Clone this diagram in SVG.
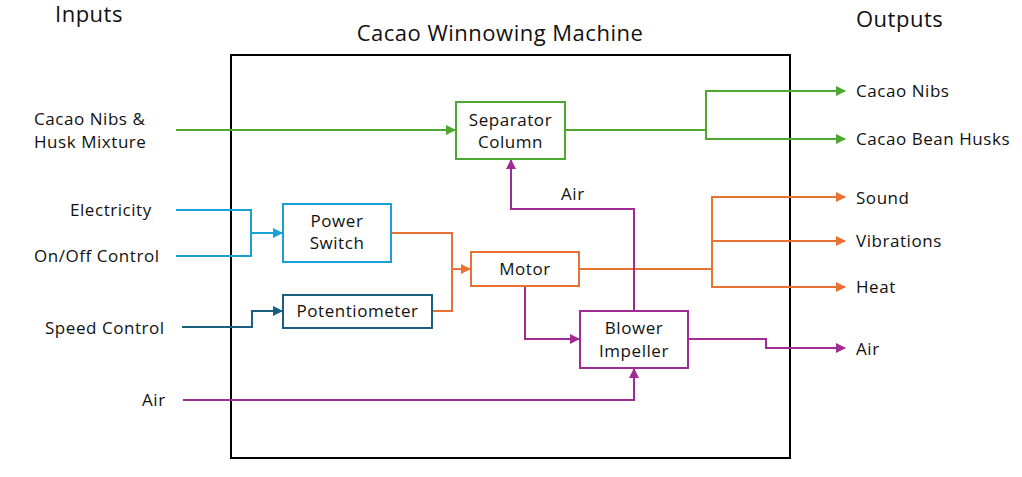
<svg xmlns="http://www.w3.org/2000/svg" width="1022" height="477" viewBox="0 0 1022 477">
<style>
text{font-family:"Open Sans","Liberation Sans",sans-serif;font-size:17px;letter-spacing:0.55px;fill:#111}
.t{font-size:22px;letter-spacing:0.5px}
.c{text-anchor:middle}
.box{fill:#fff;stroke-width:2}
.ln{fill:none;stroke-width:2}
.g{stroke:#4EA72E}.b{stroke:#1A9FD6}.d{stroke:#1B5E80}.o{stroke:#E97132}.p{stroke:#A02B93}
</style>
<defs>
<marker id="ag" viewBox="0 0 10 10" refX="9" refY="5" markerWidth="5" markerHeight="5" orient="auto" markerUnits="strokeWidth"><path d="M0,0L10,5L0,10z" fill="#4EA72E"/></marker>
<marker id="ab" viewBox="0 0 10 10" refX="9" refY="5" markerWidth="5" markerHeight="5" orient="auto" markerUnits="strokeWidth"><path d="M0,0L10,5L0,10z" fill="#1A9FD6"/></marker>
<marker id="ad" viewBox="0 0 10 10" refX="9" refY="5" markerWidth="5" markerHeight="5" orient="auto" markerUnits="strokeWidth"><path d="M0,0L10,5L0,10z" fill="#1B5E80"/></marker>
<marker id="ao" viewBox="0 0 10 10" refX="9" refY="5" markerWidth="5" markerHeight="5" orient="auto" markerUnits="strokeWidth"><path d="M0,0L10,5L0,10z" fill="#E97132"/></marker>
<marker id="ap" viewBox="0 0 10 10" refX="9" refY="5" markerWidth="5" markerHeight="5" orient="auto" markerUnits="strokeWidth"><path d="M0,0L10,5L0,10z" fill="#A02B93"/></marker>
</defs>
<rect width="1022" height="477" fill="#fff"/>
<g id="frame">
<rect x="231" y="55" width="559" height="403" fill="none" stroke="#000" stroke-width="2"/>
<text class="t" x="55" y="22">Inputs</text>
<text class="t c" x="500" y="41">Cacao Winnowing Machine</text>
<text class="t" x="856" y="27">Outputs</text>
</g>
<g id="input-labels">
<text x="34" y="125">Cacao Nibs &amp;</text>
<text x="34" y="148">Husk Mixture</text>
<text x="70" y="216">Electricity</text>
<text x="34" y="262">On/Off Control</text>
<text x="45" y="334">Speed Control</text>
<text x="142" y="406">Air</text>
</g>
<g id="output-labels">
<text x="856" y="97">Cacao Nibs</text>
<text x="856" y="145">Cacao Bean Husks</text>
<text x="856" y="204">Sound</text>
<text x="856" y="247">Vibrations</text>
<text x="856" y="293">Heat</text>
<text x="856" y="355">Air</text>
</g>
<g id="connectors">
<path class="ln g" d="M176,130H455" marker-end="url(#ag)"/>
<path class="ln g" d="M565,130H706V91H845" marker-end="url(#ag)"/>
<path class="ln g" d="M706,130V139H845" marker-end="url(#ag)"/>
<path class="ln b" d="M176,210H251V256H176"/>
<path class="ln b" d="M251,233H282" marker-end="url(#ab)"/>
<path class="ln d" d="M182,327H252V311H282" marker-end="url(#ad)"/>
<path class="ln o" d="M391,233H452V311H432"/>
<path class="ln o" d="M452,269H470" marker-end="url(#ao)"/>
<path class="ln o" d="M579,269H712V197H845" marker-end="url(#ao)"/>
<path class="ln o" d="M712,241H845" marker-end="url(#ao)"/>
<path class="ln o" d="M712,241V287H845" marker-end="url(#ao)"/>
<path class="ln p" d="M525,286V339H579" marker-end="url(#ap)"/>
<path class="ln p" d="M183,400H634V369" marker-end="url(#ap)"/>
<path class="ln p" d="M634,311V209H511V160" marker-end="url(#ap)"/>
<path class="ln p" d="M688,339H766V348H845" marker-end="url(#ap)"/>
<text x="561" y="200">Air</text>
</g>
<g id="separator-column">
<rect class="box g" x="456" y="102" width="109" height="57"/>
<text class="c" x="510.5" y="126">Separator</text>
<text class="c" x="510.5" y="148">Column</text>
</g>
<g id="power-switch">
<rect class="box b" x="283" y="204" width="108" height="58"/>
<text class="c" x="337" y="227">Power</text>
<text class="c" x="337" y="249">Switch</text>
</g>
<g id="potentiometer">
<rect class="box d" x="283" y="295" width="149" height="33"/>
<text class="c" x="357.5" y="317">Potentiometer</text>
</g>
<g id="motor">
<rect class="box o" x="471" y="252" width="108" height="34"/>
<text class="c" x="525" y="275">Motor</text>
</g>
<g id="blower-impeller">
<rect class="box p" x="580" y="311" width="108" height="57"/>
<text class="c" x="634" y="334">Blower</text>
<text class="c" x="634" y="357">Impeller</text>
</g>
</svg>
